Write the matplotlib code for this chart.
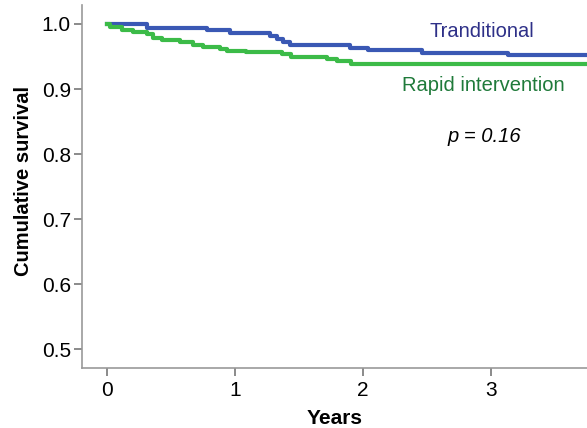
import matplotlib
matplotlib.use('Agg')
import matplotlib.pyplot as plt

plt.rcParams['font.family'] = ['Liberation Sans', 'DejaVu Sans']

# Kaplan-Meier steps (years, cumulative survival)
trad_years = [0, 0.31, 0.78, 0.96, 1.27, 1.33, 1.375, 1.43, 1.90, 2.04, 2.46, 3.13, 3.75]
trad_surv = [1.0, 0.993, 0.990, 0.986, 0.981, 0.977, 0.972, 0.967, 0.963, 0.960, 0.956, 0.952, 0.952]

rapid_years = [0, 0.02, 0.115, 0.20, 0.31, 0.36, 0.43, 0.57, 0.67, 0.75, 0.88, 0.935,
               1.09, 1.365, 1.44, 1.72, 1.80, 1.91, 3.75]
rapid_surv = [1.0, 0.995, 0.990, 0.987, 0.985, 0.979, 0.976, 0.972, 0.968, 0.964, 0.962, 0.959,
              0.957, 0.954, 0.949, 0.9465, 0.943, 0.939, 0.939]

x_ticks = [0, 1, 2, 3]
y_ticks = [0.5, 0.6, 0.7, 0.8, 0.9, 1.0]

fig = plt.figure(figsize=(5.87, 4.28), dpi=100)
ax = fig.add_axes([0.1397, 0.1402, 0.8603, 0.848])

ax.plot(trad_years, trad_surv, drawstyle='steps-post', color='#3a58b4', lw=3)
ax.plot(rapid_years, rapid_surv, drawstyle='steps-post', color='#3cbb48', lw=3)

ax.set_xlim(-0.195, 3.75)
ax.set_ylim(0.4713, 1.029)
ax.set_xticks(x_ticks)
ax.set_yticks(y_ticks)
ax.set_yticklabels(['%.1f' % v for v in y_ticks])

for side in ['top', 'right']:
    ax.spines[side].set_visible(False)
for side in ['left', 'bottom']:
    ax.spines[side].set_color('#999999')
    ax.spines[side].set_linewidth(1.2)
ax.tick_params(colors='#777777', labelcolor='black', length=5.5, width=1.2,
               labelsize=15, pad=2.5)
ax.tick_params(axis='x', pad=4)

ax.set_xlabel('Years', fontsize=15, fontweight='bold', labelpad=6)
ax.set_ylabel('Cumulative survival', fontsize=14.5, fontweight='bold')
ax.yaxis.set_label_coords(-0.098, 0.515)

ax.text(2.93, 0.988, 'Tranditional', color='#2e3088', fontsize=14.5, ha='center', va='center')
ax.text(2.94, 0.906, 'Rapid intervention', color='#1f7a3a', fontsize=14.5, ha='center', va='center')
ax.text(2.95, 0.827, 'p = 0.16', fontsize=14.5, style='italic', ha='center', va='center')

fig.savefig('out.png', dpi=100)
